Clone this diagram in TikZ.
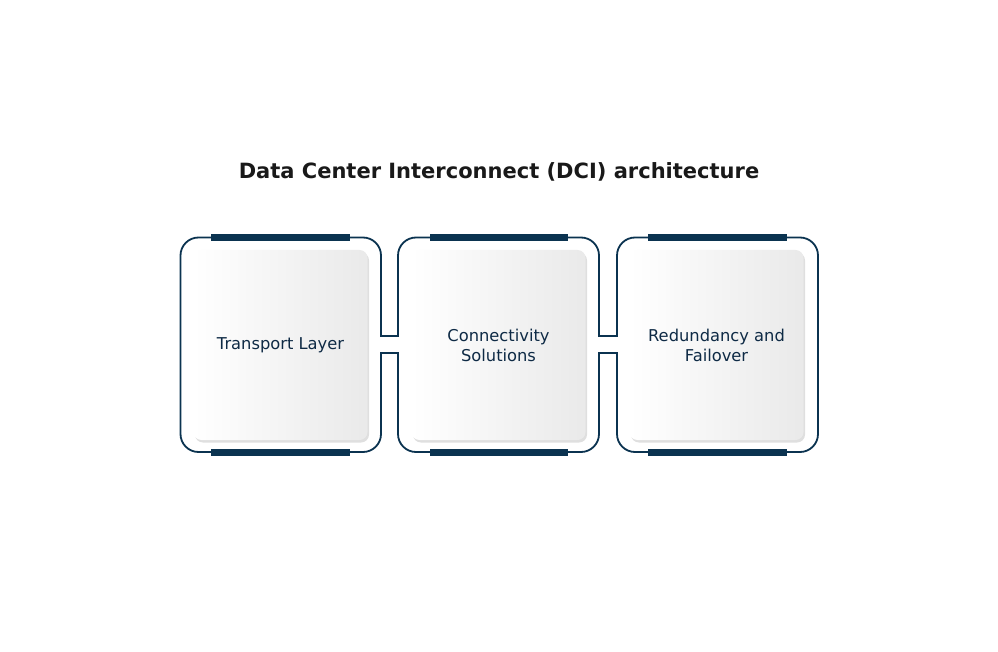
\documentclass[tikz,border=0pt]{standalone}
\usepackage{fontspec}
\setmainfont{DejaVu Sans}
\usetikzlibrary{shadows}
\definecolor{navy}{HTML}{0B3350}
\definecolor{ink}{HTML}{0E2A45}

\begin{document}
\begin{tikzpicture}[x=1pt,y=-1pt,
  card/.style={rounded corners=8pt, minimum width=174pt, minimum height=190pt,
    left color=white, right color=gray!17, text=ink, align=center,
    drop shadow={shadow xshift=1.5pt, shadow yshift=-2.5pt, opacity=0.25},
    font=\fontsize{16.3}{20}\selectfont},
  frame/.style={draw=navy, line width=1.8pt, line cap=rect},
  bar/.style={draw=navy, line width=7pt}]
\useasboundingbox[fill=white] (0,0) rectangle (998,652);

\node[text=black!90, font=\bfseries\fontsize{21}{24}\selectfont] (title) at (499,172)
  {Data Center Interconnect (DCI) architecture};

% junction points between the frames
\coordinate (j1a) at (381,336);
\coordinate (j1b) at (381,353);
\coordinate (j2a) at (398,336);
\coordinate (j2b) at (398,353);
\coordinate (j3a) at (599,336);
\coordinate (j3b) at (599,353);
\coordinate (j4a) at (617,336);
\coordinate (j4b) at (617,353);

% frames
\draw[frame, rounded corners=18pt] (j1a) -- (381,237.5) -- (180.5,237.5) -- (180.5,452) -- (381,452) -- (j1b);
\draw[frame, rounded corners=18pt] (j2a) -- (398,237.5) -- (599,237.5) -- (j3a);
\draw[frame, rounded corners=18pt] (j3b) -- (599,452) -- (398,452) -- (j2b);
\draw[frame, rounded corners=18pt] (j4a) -- (617,237.5) -- (818,237.5) -- (818,452) -- (617,452) -- (j4b);
\draw[frame] (j1a) -- (j2a);
\draw[frame] (j1b) -- (j2b);
\draw[frame] (j3a) -- (j4a);
\draw[frame] (j3b) -- (j4b);

% bars
\draw[bar] (211,237.5) -- (350,237.5);
\draw[bar] (211,452) -- (350,452);
\draw[bar] (430,237.5) -- (568,237.5);
\draw[bar] (430,452) -- (568,452);
\draw[bar] (648,237.5) -- (787,237.5);
\draw[bar] (648,452) -- (787,452);

% cards
\node[card] (transport) at (280.5,345) {Transport Layer};
\node[card] (connect) at (498.5,345) {Connectivity\\Solutions};
\node[card] (redund) at (716.5,345) {Redundancy and\\Failover};

\end{tikzpicture}
\end{document}
